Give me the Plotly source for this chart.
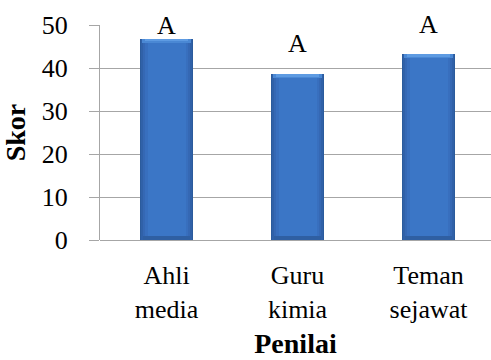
import plotly.graph_objects as go

# Skor per penilai
penilai = ["Ahli<br>media", "Guru<br>kimia", "Teman<br>sejawat"]
skor = [46.8, 38.6, 43.2]
kategori = ["A", "A", "A"]

FONT = "Liberation Serif"
GRID = "#a6a6a6"

fig = go.Figure()

# Layered bars give the bevelled, shaded look of the columns
layers = [
    (0.405, "#2b5b9c"),
    (0.385, "#3061a8"),
    (0.36, "#3568b4"),
    (0.33, "#386fbe"),
    (0.29, "#3b76c6"),
]
for w, c in layers:
    fig.add_trace(go.Bar(x=penilai, y=skor, width=w, marker=dict(color=c, line=dict(width=0)),
                         hoverinfo="skip", showlegend=False))

# darker foot of each column
fig.add_trace(go.Bar(x=penilai, y=[1.0] * len(skor), width=0.36,
                     marker=dict(color="#2f5fa2", line=dict(width=0)),
                     hoverinfo="skip", showlegend=False))
# light bevel along the top edge
for h, w, c in [(0.9, 0.37, "#4a88d4"), (0.55, 0.33, "#5e9be2")]:
    fig.add_trace(go.Bar(x=penilai, y=[h] * len(skor), base=[v - h for v in skor], width=w,
                         marker=dict(color=c, line=dict(width=0)),
                         hoverinfo="skip", showlegend=False))

# letter labels above the columns
label_shift = [-3, 14, 13]
for x, v, t, s in zip(penilai, skor, kategori, label_shift):
    fig.add_annotation(x=x, y=v, text=t, showarrow=False, yanchor="bottom", yshift=s,
                       font=dict(family=FONT, size=26, color="black"))

fig.update_layout(
    width=491, height=360,
    margin=dict(l=100, r=0, t=25, b=120),
    paper_bgcolor="white", plot_bgcolor="white",
    barmode="overlay", bargap=0,
    font=dict(family=FONT, size=26, color="black"),
    xaxis=dict(
        range=[-0.508, 2.477], showgrid=False, showline=False, ticks="",
        ticklabelstandoff=17,
        tickfont=dict(family=FONT, size=26, color="black"),
        title=dict(text="<b>Penilai</b>", font=dict(family=FONT, size=28, color="black"), standoff=10),
    ),
    yaxis=dict(
        range=[0, 50.05], dtick=10, tick0=0,
        showgrid=True, gridcolor=GRID, gridwidth=1.3,
        zeroline=True, zerolinecolor=GRID, zerolinewidth=1.3,
        showline=True, linecolor=GRID, linewidth=1.3,
        ticks="outside", ticklen=10, tickcolor=GRID, tickwidth=1.3,
        ticklabelstandoff=16,
        tickfont=dict(family=FONT, size=26, color="black"),
        title=dict(text="<b>Skor</b>", font=dict(family=FONT, size=28, color="black"), standoff=7),
    ),
)

fig.write_html("out.html")
